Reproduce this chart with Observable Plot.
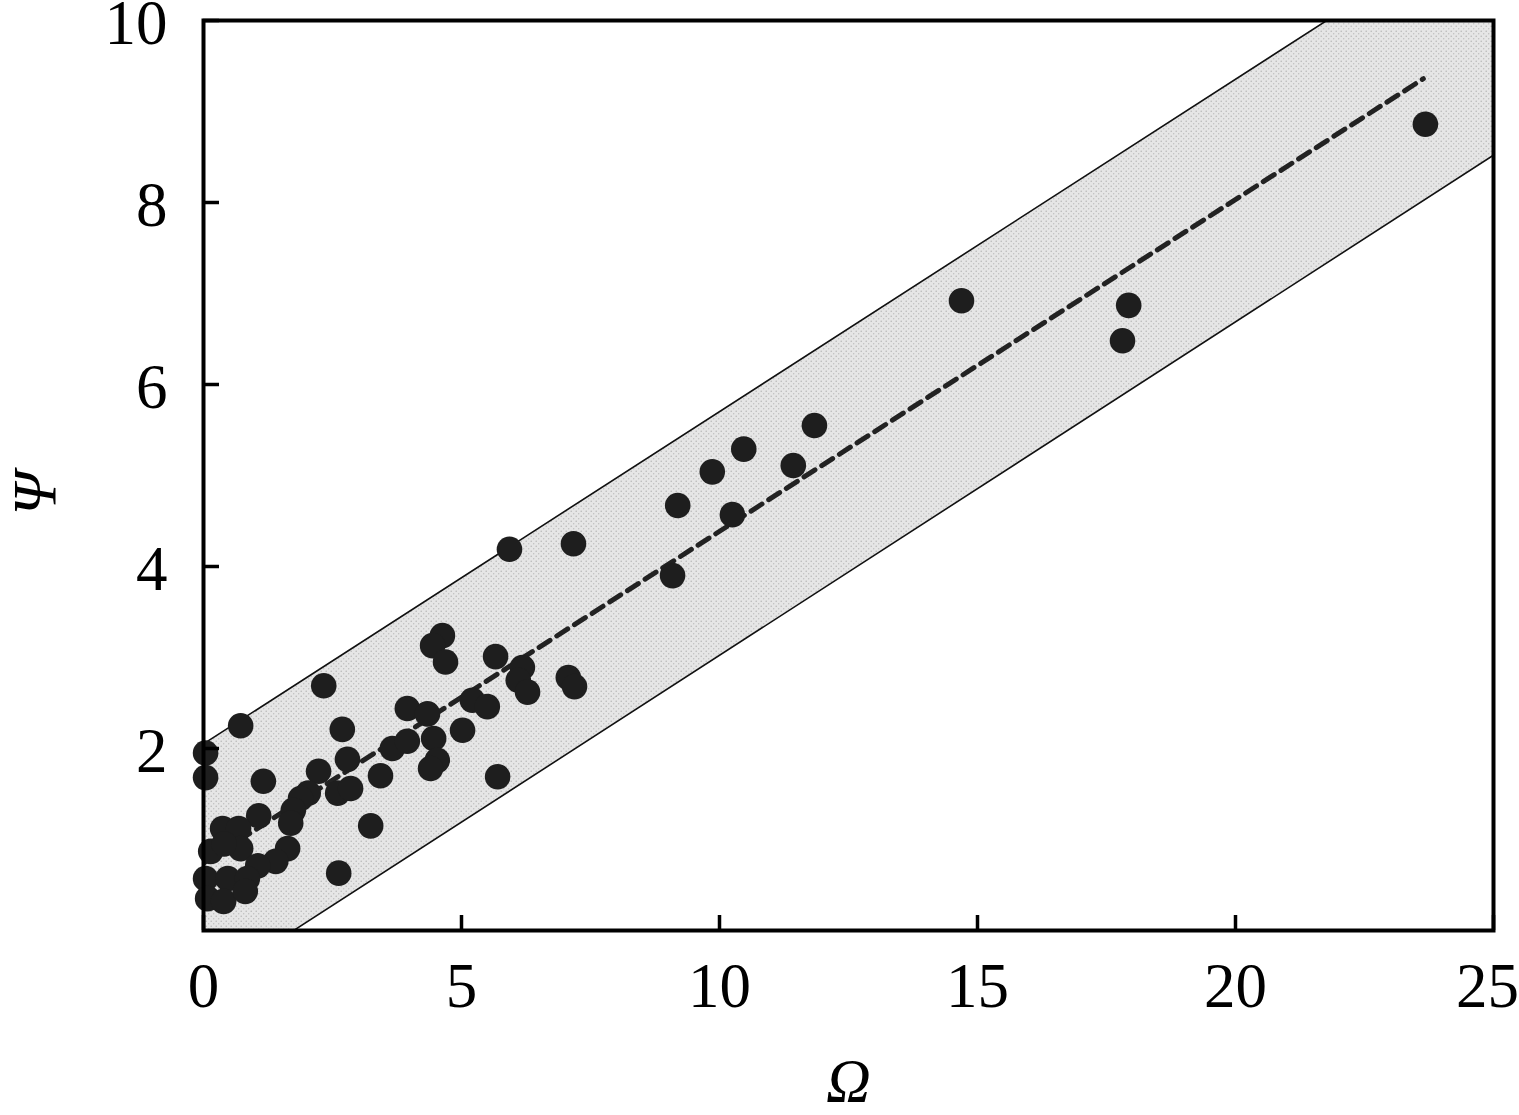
<!DOCTYPE html>
<html>
<head>
<meta charset="utf-8">
<script src="https://cdn.jsdelivr.net/npm/d3@7"></script>
<script src="https://cdn.jsdelivr.net/npm/@observablehq/plot@0.6"></script>
<style>
  html, body { margin: 0; padding: 0; background: #fff; }
  #chart svg { display: block; }
</style>
</head>
<body>
<div id="chart"></div>
<script>
// Scatter points (Ω, Ψ)
const omega = [
  23.68, 14.69, 17.93, 17.81, 11.84, 10.47, 11.43, 9.86, 9.19, 10.25,
  9.09, 7.17, 5.93, 4.63, 4.44, 4.69, 5.66, 6.18, 6.10, 6.28,
  7.07, 7.19, 2.33, 0.72, 2.69, 5.02, 5.21, 5.50, 3.95, 4.34,
  4.46, 4.53, 4.40, 3.66, 3.95, 3.43, 5.70, 2.79, 2.60, 2.85,
  2.23, 1.16, 0.04, 0.04, 2.03, 1.88, 1.74, 1.69, 1.07, 3.24,
  1.63, 1.40, 2.62, 0.37, 0.68, 0.14, 0.72, 1.05, 0.04, 0.47,
  0.85, 0.08, 0.39, 0.81, 0.40
];
const psi = [
  8.86, 6.92, 6.87, 6.48, 5.55, 5.29, 5.11, 5.04, 4.67, 4.57,
  3.90, 4.25, 4.19, 3.24, 3.13, 2.95, 3.01, 2.89, 2.75, 2.62,
  2.78, 2.68, 2.69, 2.25, 2.21, 2.20, 2.53, 2.46, 2.44, 2.38,
  2.11, 1.87, 1.78, 2.00, 2.08, 1.70, 1.69, 1.88, 1.51, 1.56,
  1.75, 1.64, 1.95, 1.68, 1.51, 1.45, 1.32, 1.18, 1.26, 1.15,
  0.90, 0.76, 0.63, 1.12, 1.12, 0.87, 0.90, 0.71, 0.57, 0.57,
  0.57, 0.35, 0.32, 0.43, 0.95
];
// Fitted line (dashed) and band limits
const fitOmega = [0, 23.64];
const fitPsi = [0.74, 9.36];
const bandOmega = [0, 25];
const bandLow = [-0.64, 8.52];
const bandHigh = [2.05, 11.18];
// Axes
const xTicks = [0, 5, 10, 15, 20, 25];
const yTicks = [2, 4, 6, 8, 10];
const xLabel = ["Ω"];
const yLabel = ["Ψ"];

const points = omega.map((o, i) => ({omega: o, psi: psi[i]}));
const band = bandOmega.map((o, i) => ({omega: o, lo: bandLow[i], hi: bandHigh[i]}));
const fit = fitOmega.map((o, i) => ({omega: o, psi: fitPsi[i]}));

const W = 1519, H = 1115, mL = 203, mR = 26, mT = 20, mB = 185;
const pw = W - mL - mR, ph = H - mT - mB;
const serif = "Liberation Serif";
const xInner = xTicks.slice(0, -1);
const xLast = xTicks.slice(-1);

const chart = Plot.plot({
  width: W,
  height: H,
  marginLeft: mL,
  marginRight: mR,
  marginTop: mT,
  marginBottom: mB,
  style: {fontFamily: serif, fontSize: "62px", color: "#000", background: "#fff", overflow: "visible"},
  x: {domain: [0, 25], ticks: xTicks},
  y: {domain: [0, 10], ticks: yTicks},
  marks: [
    Plot.areaY(band, {x: "omega", y1: "lo", y2: "hi", fill: "url(#stipple)", clip: true}),
    Plot.line(band, {x: "omega", y: "lo", stroke: "#111", strokeWidth: 1.6, clip: true}),
    Plot.line(band, {x: "omega", y: "hi", stroke: "#111", strokeWidth: 1.6, clip: true}),
    Plot.line(fit, {x: "omega", y: "psi", stroke: "#222", strokeWidth: 5, strokeDasharray: "13,8", clip: true}),
    Plot.dot(points, {x: "omega", y: "psi", r: 12.8, fill: "#1e1e1e", stroke: "none"}),
    Plot.ruleX(xTicks, {x: d => d, insetTop: ph - 15, stroke: "#000", strokeWidth: 3.5}),
    Plot.ruleY(yTicks, {y: d => d, insetRight: pw - 16, stroke: "#000", strokeWidth: 3.5}),
    Plot.axisX({ticks: xInner, tickSize: 0, tickPadding: 32, fontSize: 63, fontFamily: serif, label: null}),
    Plot.axisX({ticks: xLast, tickSize: 0, tickPadding: 32, dx: -6, fontSize: 63, fontFamily: serif, label: null}),
    Plot.axisY({ticks: yTicks, tickSize: 0, tickPadding: 36, dy: 3, fontSize: 63, fontFamily: serif, label: null}),
    Plot.frame({stroke: "#000", strokeWidth: 4}),
    Plot.text(xLabel, {text: d => d, frameAnchor: "bottom", dy: 170, fontSize: 62, fontStyle: "italic", fontFamily: serif, fill: "#000"}),
    Plot.text(yLabel, {text: d => d, frameAnchor: "left", dx: -168, dy: 40, rotate: -90, fontSize: 62, fontStyle: "italic", fontFamily: serif, fill: "#000"})
  ]
});

// stipple pattern for the band
const ns = "http://www.w3.org/2000/svg";
const defs = document.createElementNS(ns, "defs");
defs.innerHTML = `
  <pattern id="stipple" width="5" height="5" patternUnits="userSpaceOnUse">
    <rect width="5" height="5" fill="#e6e6e6"></rect>
    <circle cx="1.2" cy="1.3" r="0.75" fill="#b5b5b5"></circle>
    <circle cx="3.7" cy="3.8" r="0.7" fill="#bdbdbd"></circle>
  </pattern>`;
chart.insertBefore(defs, chart.firstChild);
document.getElementById("chart").appendChild(chart);
</script>
</body>
</html>
